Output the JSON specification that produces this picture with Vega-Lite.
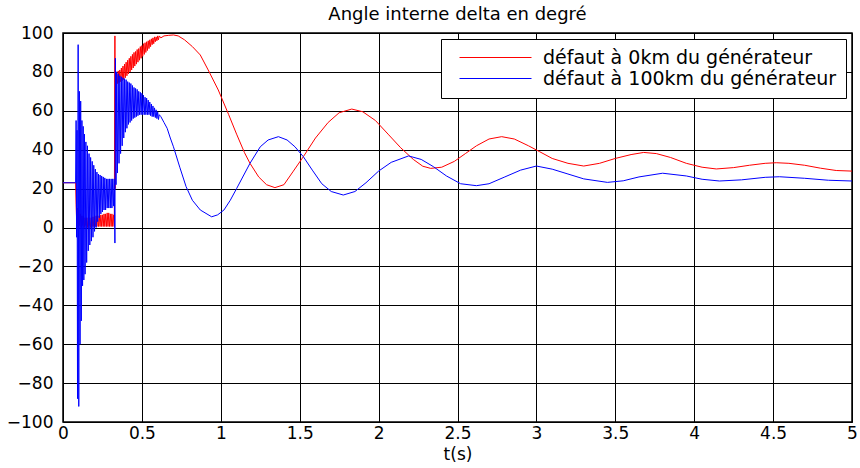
{
  "$schema": "https://vega.github.io/schema/vega-lite/v6.json",
  "width": 789,
  "height": 389,
  "autosize": "none",
  "padding": {"left": 63, "top": 33, "right": 8, "bottom": 46},
  "background": "white",
  "config": {
    "view": {"stroke": "black", "strokeWidth": 1.5},
    "font": "DejaVu Sans"
  },
  "title": {"text": "Angle interne delta en degré", "fontSize": 18, "font": "DejaVu Sans", "fontWeight": "normal", "color": "black", "offset": 0, "anchor": "middle"},
  "datasets": {
    "red": [
      {"t":0,"v":23},{"t":0.08,"v":23},{"t":0.083,"v":12},{"t":0.087,"v":2},{"t":0.09,"v":10},{"t":0.095,"v":0},{"t":0.1,"v":9},{"t":0.105,"v":1},{"t":0.11,"v":7},{"t":0.115,"v":0},{"t":0.12,"v":6},{"t":0.125,"v":1},{"t":0.13,"v":6},{"t":0.135,"v":0},{"t":0.14,"v":5},{"t":0.145,"v":1},{"t":0.15,"v":5},{"t":0.155,"v":0},{"t":0.16,"v":5},{"t":0.165,"v":1},{"t":0.17,"v":5},{"t":0.175,"v":0},{"t":0.18,"v":5},{"t":0.185,"v":0.5},{"t":0.19,"v":5.5},{"t":0.195,"v":0.5},{"t":0.2,"v":5.5},{"t":0.205,"v":0.5},{"t":0.21,"v":6},{"t":0.215,"v":0.5},{"t":0.22,"v":6},{"t":0.225,"v":0.5},{"t":0.23,"v":6},{"t":0.235,"v":0.5},{"t":0.24,"v":6.5},{"t":0.245,"v":0.5},{"t":0.25,"v":6.5},{"t":0.255,"v":0.5},{"t":0.26,"v":7},{"t":0.265,"v":0.5},{"t":0.27,"v":7},{"t":0.275,"v":0.5},{"t":0.28,"v":7.5},{"t":0.285,"v":0.5},{"t":0.29,"v":7.5},{"t":0.295,"v":0.5},{"t":0.3,"v":7},{"t":0.305,"v":0.5},{"t":0.31,"v":7},{"t":0.315,"v":0.5},{"t":0.32,"v":6.5},{"t":0.325,"v":0.5},
      {"t":0.329,"v":98.5},{"t":0.331,"v":20},{"t":0.336,"v":78},
      {"t":0.34,"v":80},{"t":0.345,"v":74},{"t":0.35,"v":80.5},{"t":0.355,"v":74.5},{"t":0.36,"v":81},{"t":0.365,"v":75},{"t":0.37,"v":82},{"t":0.375,"v":75.5},{"t":0.38,"v":83},{"t":0.385,"v":76},{"t":0.39,"v":84},{"t":0.395,"v":77},{"t":0.4,"v":85},{"t":0.405,"v":78},{"t":0.41,"v":86},{"t":0.415,"v":79},{"t":0.42,"v":87},{"t":0.425,"v":80},{"t":0.43,"v":88},{"t":0.435,"v":81},{"t":0.44,"v":89},{"t":0.445,"v":82},{"t":0.45,"v":90},{"t":0.455,"v":83},{"t":0.46,"v":90.5},{"t":0.465,"v":84},{"t":0.47,"v":91.5},{"t":0.475,"v":85},{"t":0.48,"v":92},{"t":0.485,"v":86},{"t":0.49,"v":93},{"t":0.495,"v":87},{"t":0.5,"v":93.5},{"t":0.505,"v":88},{"t":0.51,"v":94.5},{"t":0.515,"v":89},{"t":0.52,"v":95},{"t":0.525,"v":90},{"t":0.53,"v":95.5},{"t":0.535,"v":91},{"t":0.54,"v":96},{"t":0.545,"v":92},{"t":0.55,"v":96.5},{"t":0.555,"v":93},{"t":0.56,"v":97},{"t":0.565,"v":94},{"t":0.57,"v":97.5},{"t":0.575,"v":94.5},{"t":0.58,"v":98},{"t":0.585,"v":95.5},{"t":0.59,"v":98},{"t":0.595,"v":96},{"t":0.6,"v":98.5},{"t":0.605,"v":96.5},{"t":0.61,"v":98.5},
      {"t":0.62,"v":97.5},{"t":0.64,"v":98.5},{"t":0.67,"v":98.8},{"t":0.7,"v":99},{"t":0.73,"v":98.5},{"t":0.77,"v":96.5},{"t":0.82,"v":93},{"t":0.87,"v":88.7},{"t":0.92,"v":81},{"t":0.984,"v":70.7},{"t":1.05,"v":58},{"t":1.1,"v":48},{"t":1.15,"v":38.5},{"t":1.185,"v":33},{"t":1.24,"v":26},{"t":1.29,"v":22},{"t":1.343,"v":20.5},{"t":1.4,"v":22},{"t":1.46,"v":29},{"t":1.523,"v":36.4},{"t":1.6,"v":46},{"t":1.68,"v":54},{"t":1.75,"v":59},{"t":1.83,"v":60.9},{"t":1.9,"v":59.5},{"t":1.98,"v":55},{"t":2.06,"v":48},{"t":2.14,"v":41},{"t":2.22,"v":35},{"t":2.28,"v":31.5},{"t":2.33,"v":30.4},{"t":2.4,"v":31},{"t":2.48,"v":34},{"t":2.55,"v":38},{"t":2.62,"v":42},{"t":2.7,"v":45.5},{"t":2.78,"v":46.7},{"t":2.86,"v":45.5},{"t":2.95,"v":42},{"t":3.02,"v":39},{"t":3.1,"v":35.5},{"t":3.2,"v":33},{"t":3.3,"v":31.6},{"t":3.4,"v":33},{"t":3.5,"v":35.5},{"t":3.6,"v":37.5},{"t":3.68,"v":38.6},{"t":3.76,"v":38},{"t":3.85,"v":36},{"t":3.95,"v":33},{"t":4.05,"v":31},{"t":4.14,"v":30.1},{"t":4.25,"v":30.8},{"t":4.35,"v":32},{"t":4.45,"v":33},{"t":4.52,"v":33.3},{"t":4.6,"v":33},{"t":4.7,"v":32},{"t":4.8,"v":30.5},{"t":4.9,"v":29.3},{"t":5,"v":29}
    ],
    "blue": [
      {"t":0,"v":23},{"t":0.08,"v":23},{"t":0.083,"v":55},{"t":0.086,"v":-5},{"t":0.089,"v":50},{"t":0.092,"v":-88},{"t":0.096,"v":94},{"t":0.1,"v":-92},{"t":0.104,"v":70},{"t":0.108,"v":-60},{"t":0.112,"v":65},{"t":0.116,"v":-48},{"t":0.12,"v":55},{"t":0.124,"v":-30},{"t":0.128,"v":52},{"t":0.132,"v":-27},{"t":0.136,"v":48},{"t":0.14,"v":-24},{"t":0.145,"v":44},{"t":0.15,"v":-18},{"t":0.155,"v":42},{"t":0.16,"v":-12},{"t":0.165,"v":38},{"t":0.17,"v":-9},{"t":0.175,"v":36},{"t":0.18,"v":-7},{"t":0.185,"v":34},{"t":0.19,"v":-5},{"t":0.195,"v":32},{"t":0.2,"v":-2},{"t":0.205,"v":30},{"t":0.21,"v":0},{"t":0.215,"v":28.5},{"t":0.22,"v":3},{"t":0.225,"v":27.5},{"t":0.23,"v":5},{"t":0.235,"v":27},{"t":0.24,"v":7},{"t":0.245,"v":26.5},{"t":0.25,"v":8},{"t":0.255,"v":26},{"t":0.26,"v":9},{"t":0.265,"v":25.5},{"t":0.27,"v":9},{"t":0.275,"v":25},{"t":0.28,"v":10},{"t":0.285,"v":25},{"t":0.29,"v":10},{"t":0.295,"v":25},{"t":0.3,"v":10},{"t":0.305,"v":25},{"t":0.31,"v":10},{"t":0.315,"v":25},{"t":0.32,"v":11},{"t":0.325,"v":25},
      {"t":0.329,"v":-8},{"t":0.332,"v":87},{"t":0.336,"v":22},
      {"t":0.34,"v":80},{"t":0.345,"v":28},{"t":0.35,"v":79},{"t":0.355,"v":33},{"t":0.36,"v":78},{"t":0.365,"v":38},{"t":0.37,"v":77.5},{"t":0.375,"v":42},{"t":0.38,"v":77},{"t":0.385,"v":46},{"t":0.39,"v":76.5},{"t":0.395,"v":49},{"t":0.4,"v":76},{"t":0.405,"v":51},{"t":0.41,"v":75},{"t":0.415,"v":53},{"t":0.42,"v":74.5},{"t":0.425,"v":54},{"t":0.43,"v":74},{"t":0.435,"v":55},{"t":0.44,"v":73},{"t":0.445,"v":56},{"t":0.45,"v":72},{"t":0.455,"v":56.5},{"t":0.46,"v":71.5},{"t":0.465,"v":57},{"t":0.47,"v":71},{"t":0.475,"v":57.5},{"t":0.48,"v":70},{"t":0.485,"v":58},{"t":0.49,"v":69.5},{"t":0.495,"v":58},{"t":0.5,"v":69},{"t":0.505,"v":58},{"t":0.51,"v":68},{"t":0.515,"v":58},{"t":0.52,"v":67},{"t":0.525,"v":58},{"t":0.53,"v":66.5},{"t":0.535,"v":58},{"t":0.54,"v":65.5},{"t":0.545,"v":58},{"t":0.55,"v":64.5},{"t":0.555,"v":57.5},{"t":0.56,"v":63.5},{"t":0.565,"v":57},{"t":0.57,"v":62.5},{"t":0.575,"v":57},{"t":0.58,"v":61.5},{"t":0.585,"v":56.5},{"t":0.59,"v":60.5},{"t":0.595,"v":56},{"t":0.6,"v":59.5},{"t":0.605,"v":55.5},{"t":0.61,"v":58},
      {"t":0.62,"v":57},{"t":0.64,"v":54},{"t":0.66,"v":51},{"t":0.68,"v":46},{"t":0.7,"v":41.5},{"t":0.74,"v":31},{"t":0.78,"v":21},{"t":0.82,"v":14},{"t":0.87,"v":9},{"t":0.942,"v":5.5},{"t":0.98,"v":6.5},{"t":1.02,"v":9},{"t":1.06,"v":14},{"t":1.1,"v":20},{"t":1.185,"v":33},{"t":1.25,"v":41.5},{"t":1.3,"v":45},{"t":1.365,"v":46.7},{"t":1.42,"v":45},{"t":1.47,"v":41.5},{"t":1.523,"v":36.4},{"t":1.58,"v":29.5},{"t":1.64,"v":22.5},{"t":1.7,"v":18.5},{"t":1.776,"v":16.7},{"t":1.85,"v":18.5},{"t":1.92,"v":23},{"t":2.0,"v":29},{"t":2.08,"v":33.5},{"t":2.19,"v":36.8},{"t":2.27,"v":35},{"t":2.347,"v":31.3},{"t":2.43,"v":26.5},{"t":2.52,"v":22.5},{"t":2.62,"v":21.5},{"t":2.7,"v":22.5},{"t":2.8,"v":26},{"t":2.9,"v":29.5},{"t":3.0,"v":31.6},{"t":3.1,"v":30},{"t":3.2,"v":27.5},{"t":3.3,"v":25},{"t":3.45,"v":23.2},{"t":3.55,"v":24},{"t":3.65,"v":26},{"t":3.8,"v":27.9},{"t":3.95,"v":26.5},{"t":4.05,"v":24.8},{"t":4.16,"v":23.9},{"t":4.3,"v":24.5},{"t":4.45,"v":25.8},{"t":4.54,"v":26.1},{"t":4.7,"v":25.3},{"t":4.85,"v":24.3},{"t":5,"v":23.9}
    ]
  },
  "encoding": {
    "x": {"field": "t", "type": "quantitative", "scale": {"domain": [0, 5], "nice": false},
      "axis": {"values": [0,0.5,1,1.5,2,2.5,3,3.5,4,4.5,5], "labelExpr": "'' + datum.value", "title": "t(s)", "grid": true, "gridColor": "black", "gridOpacity": 1, "gridWidth": 1, "domain": false, "ticks": false, "labelPadding": 3, "labelFont": "DejaVu Sans", "labelFontSize": 17, "labelColor": "black", "labelFlush": false, "titleFont": "DejaVu Sans", "titleFontSize": 17, "titleFontWeight": "normal", "titleColor": "black", "titlePadding": 5}},
    "y": {"field": "v", "type": "quantitative", "scale": {"domain": [-100, 100], "nice": false},
      "axis": {"values": [-100,-80,-60,-40,-20,0,20,40,60,80,100], "title": null, "grid": true, "gridColor": "black", "gridOpacity": 1, "gridWidth": 1, "domain": false, "ticks": false, "labelPadding": 10, "labelFont": "DejaVu Sans", "labelFontSize": 17, "labelColor": "black", "labelFlush": false}}
  },
  "layer": [
    {
      "data": {"name": "red"},
      "mark": {"type": "line", "strokeWidth": 1, "strokeJoin": "bevel", "clip": true},
      "encoding": {
        "color": {"datum": "défaut à 0km du générateur", "type": "nominal",
          "scale": {"domain": ["défaut à 0km du générateur", "défaut à 100km du générateur"], "range": ["#ff0000", "#0000ff"]},
          "legend": {"orient": "top-right", "offset": 6, "title": null, "symbolType": "M0,0H18", "symbolSize": 64, "symbolStrokeWidth": 1, "labelFont": "DejaVu Sans", "labelFontSize": 19, "labelColor": "black", "labelLimit": 0, "labelOffset": 74, "strokeColor": "black", "fillColor": "white", "padding": 9, "rowPadding": 1}}
      }
    },
    {
      "data": {"name": "blue"},
      "mark": {"type": "line", "strokeWidth": 1, "strokeJoin": "bevel", "clip": true},
      "encoding": {
        "color": {"datum": "défaut à 100km du générateur", "type": "nominal"}
      }
    }
  ]
}
